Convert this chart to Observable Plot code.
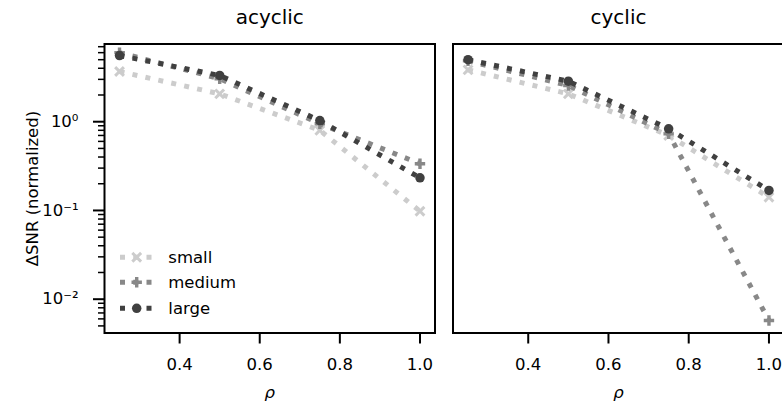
<!DOCTYPE html>
<html><head><meta charset="utf-8">
<script src="https://cdn.jsdelivr.net/npm/d3@7"></script>
<script src="https://cdn.jsdelivr.net/npm/@observablehq/plot@0.6"></script>
<style>
html,body{margin:0;padding:0;background:#fff;overflow:hidden;}
#wrap{display:flex;width:782px;height:407px;}
#wrap > div{flex:none;}
svg{font-family:"DejaVu Sans",sans-serif;}
</style></head><body><div id="wrap"><div id="left"></div><div id="right"></div></div>
<script>
// ---- data ----
const panels = ["acyclic", "cyclic"];
const rho = [0.25, 0.5, 0.75, 1.0];
const sizes = ["small", "medium", "large"];
const acyclicSmall  = [3.68, 2.06, 0.80, 0.098];
const acyclicMedium = [6.0, 3.05, 0.95, 0.336];
const acyclicLarge  = [5.57, 3.32, 1.03, 0.233];
const cyclicSmall   = [3.84, 2.06, 0.70, 0.141];
const cyclicMedium  = [4.85, 2.56, 0.73, 0.00575];
const cyclicLarge   = [5.0, 2.86, 0.832, 0.168];
const xTicks = [0.4, 0.6, 0.8, 1.0];
const xTickLabels = ["0.4", "0.6", "0.8", "1.0"];
const yMajorTicks = [0.01, 0.1, 1];
const yMajorLabels = ["10\u207B\u00B2", "10\u207B\u00B9", "10\u2070"];
const yMinorTicks = [0.005, 0.006, 0.007, 0.008, 0.009,
  0.02, 0.03, 0.04, 0.05, 0.06, 0.07, 0.08, 0.09,
  0.2, 0.3, 0.4, 0.5, 0.6, 0.7, 0.8, 0.9,
  2, 3, 4, 5, 6, 7];
const yLabel = "\u0394SNR (normalized)";
const xLabel = "\u03C1";

// ---- build table ----
const values = {
  acyclic: {small: acyclicSmall, medium: acyclicMedium, large: acyclicLarge},
  cyclic: {small: cyclicSmall, medium: cyclicMedium, large: cyclicLarge}
};
const rows = [];
for (const p of panels) for (const s of sizes) rho.forEach((r, i) => rows.push({panel: p, size: s, rho: r, snr: values[p][s][i]}));

// ---- styles ----
const colors = {small: "#cccccc", medium: "#888888", large: "#404040"};
const LW = 5, DASH = "5,8.25";
function polySym(pts) {
  return {draw(ctx, size) {
    const k = Math.sqrt(size / Math.PI) / 5;
    pts.forEach(([x, y], i) => i ? ctx.lineTo(x * k, y * k) : ctx.moveTo(x * k, y * k));
    ctx.closePath();
  }};
}
function plusPts(a, w) {
  return [[w,-a],[w,-w],[a,-w],[a,w],[w,w],[w,a],[-w,a],[-w,w],[-a,w],[-a,-w],[-w,-w],[-w,-a]];
}
const plusSym = polySym(plusPts(5.2, 1.7));
const xSym = polySym(plusPts(6.2, 1.5).map(([x, y]) => [(x - y) / Math.SQRT2, (x + y) / Math.SQRT2]));
const symbols = {small: xSym, medium: plusSym, large: d3.symbolCircle};
const markerR = {small: 5, medium: 5, large: 4.75};

function legendMark(index, scales, vals, dims) {
  const g = d3.create("svg:g").attr("font-family", "DejaVu Sans").attr("font-size", 16.5)
    .attr("text-anchor", "start");
  const x0 = dims.marginLeft, yb = dims.height - dims.marginBottom;
  const offs = [-75.2, -50.2, -24.2];
  sizes.forEach((s, i) => {
    const y = yb + offs[i];
    g.append("path").attr("d", `M${x0 + 16},${y}H${x0 + 48.8}`)
      .attr("stroke", colors[s]).attr("stroke-width", LW).attr("stroke-dasharray", DASH)
      .attr("fill", "none");
    g.append("path").attr("transform", `translate(${x0 + 32.7},${y})`)
      .attr("d", d3.symbol().type(symbols[s]).size(Math.PI * markerR[s] ** 2)())
      .attr("fill", colors[s]);
    g.append("text").attr("x", x0 + 64.3).attr("y", y).attr("dy", "0.35em")
      .attr("text-anchor", "start").attr("fill", "black").text(s);
  });
  return g.node();
}

function panelPlot(panel, w, ml, mr, isLeft) {
  const data = rows.filter(d => d.panel === panel);
  const marks = [];
  for (const s of sizes) {
    const sd = data.filter(d => d.size === s);
    marks.push(Plot.line(sd, {x: "rho", y: "snr", stroke: colors[s], strokeWidth: LW,
      strokeDasharray: DASH, strokeLinecap: "butt", strokeLinejoin: "miter"}));
    marks.push(Plot.dot(sd, {x: "rho", y: "snr", fill: colors[s], stroke: "none",
      symbol: () => symbols[s], r: markerR[s]}));
  }
  marks.push(Plot.frame({stroke: "black", strokeWidth: 2}));
  marks.push(Plot.axisX({ticks: xTicks, tickFormat: d => xTickLabels[xTicks.indexOf(d)],
    tickSize: 11, tickPadding: 14, strokeWidth: 2, label: null, fontSize: 16.5}));
  marks.push(Plot.text([xLabel], {frameAnchor: "bottom", text: d => d, dy: 59.3,
    fontStyle: "italic", fontSize: 16.5, textAnchor: "middle", lineAnchor: "middle", fill: "black"}));
  marks.push(Plot.text([panel], {frameAnchor: "top", text: d => d, dy: -26.6,
    fontSize: 20, textAnchor: "middle", lineAnchor: "middle", fill: "black"}));
  if (isLeft) {
    marks.push(Plot.axisY({ticks: yMinorTicks, tickFormat: () => "", tickSize: 6,
      strokeWidth: 1.5, label: null}));
    marks.push(Plot.axisY({ticks: yMajorTicks, tickFormat: d => yMajorLabels[yMajorTicks.indexOf(d)],
      tickSize: 11, tickPadding: 15, strokeWidth: 2, label: null, fontSize: 16.5}));
    marks.push(Plot.text([yLabel], {frameAnchor: "left", text: d => d, rotate: -90, dx: -72,
      fontSize: 16.5, textAnchor: "middle", lineAnchor: "middle", fill: "black"}));
    marks.push(legendMark);
  }
  return Plot.plot({
    width: w, height: 407,
    marginTop: 43.5, marginBottom: 74.5, marginLeft: ml, marginRight: mr,
    style: {fontFamily: "DejaVu Sans", fontSize: "16.5px", color: "black", background: "white"},
    x: {type: "linear", domain: [0.2125, 1.0375]},
    y: {type: "log", domain: [0.00416, 7.51], axis: isLeft ? undefined : null},
    marks
  });
}

document.getElementById("left").append(panelPlot("acyclic", 443, 104, 8.5, true));
document.getElementById("right").append(panelPlot("cyclic", 339, 9.5, -1.5, false));
</script>
</body></html>
